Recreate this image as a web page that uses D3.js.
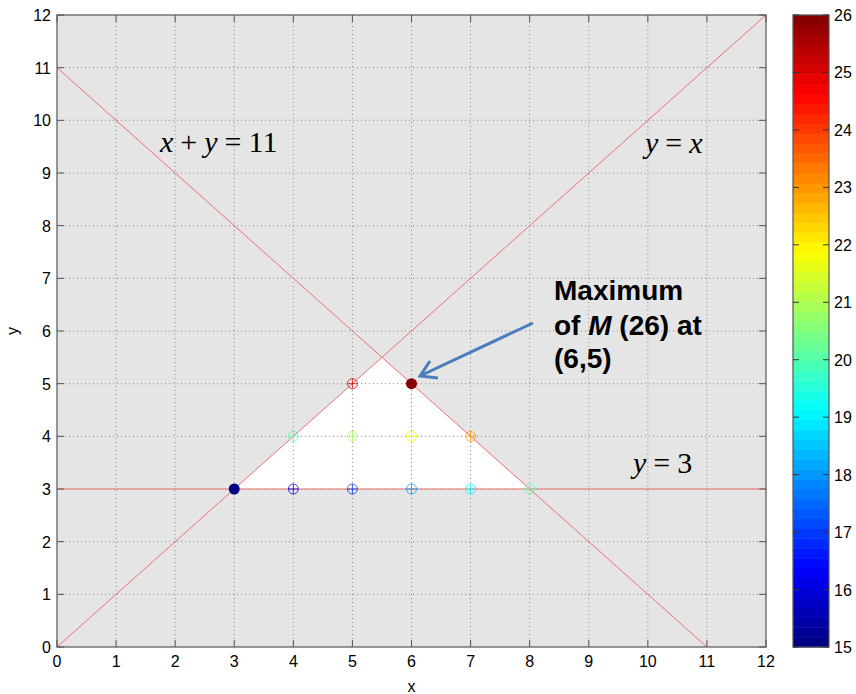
<!DOCTYPE html>
<html>
<head>
<meta charset="utf-8">
<script src="https://cdn.jsdelivr.net/npm/d3@7"></script>
<style>
body { margin: 0; background: #fff; }
svg text { font-family: Arial, "Liberation Sans", sans-serif; }
</style>
</head>
<body>
<div id="chart"></div>
<script>
const W = 856, H = 694
const M = {LEFT: 57, RIGHT: 90, TOP: 15, BOTTOM: 47}

// feasible points (x, y) and value of M at each
const ptX = [4, 5, 6, 7, 8, 4, 5, 6, 7, 5]
const ptY = [3, 3, 3, 3, 3, 4, 4, 4, 4, 5]
const ptM = [16, 17, 18, 19, 20, 20, 21, 22, 23, 25]
const minPt = {x: 3, y: 3, m: 15}
const maxPt = {x: 6, y: 5, m: 26}
const ticks = d3.range(0, 13)
const cbTicks = d3.range(15, 27)
// constraint lines as endpoints
const lines = [
  [[0, 0], [12, 12]],
  [[0, 11], [11, 0]],
  [[0, 3], [12, 3]]
]
const region = [[3, 3], [8, 3], [5.5, 5.5]]

const svg = d3.select('#chart').append('svg')
  .attr('width', W).attr('height', H)

const x = d3.scaleLinear().domain([0, 12]).range([M.LEFT, 766])
const y = d3.scaleLinear().domain([0, 12]).range([647, M.TOP])

function jet(t) {
  const c = v => Math.max(0, Math.min(1, v))
  const r = c(1.5 - Math.abs(4 * t - 3))
  const g = c(1.5 - Math.abs(4 * t - 2))
  const b = c(1.5 - Math.abs(4 * t - 1))
  return d3.rgb(r * 255, g * 255, b * 255)
}
const NC = 64
const colorOf = m => {
  let i = Math.floor((m - 15) / 11 * NC)
  i = Math.max(0, Math.min(NC - 1, i))
  return jet((i + 0.5) / NC)
}

// background
svg.append('rect')
  .attr('x', x(0)).attr('y', y(12))
  .attr('width', x(12) - x(0)).attr('height', y(0) - y(12))
  .attr('fill', '#e5e5e5')

svg.append('path')
  .attr('d', d3.line().x(d => x(d[0])).y(d => y(d[1]))(region) + 'Z')
  .attr('fill', '#fff')

// grid
const grid = svg.append('g')
grid.selectAll('.gx').data(ticks.slice(1, -1)).enter().append('line')
  .attr('x1', d => x(d)).attr('x2', d => x(d))
  .attr('y1', y(0)).attr('y2', y(12))
  .attr('stroke', '#8a8a8a').attr('stroke-width', 1)
  .attr('stroke-dasharray', '1,3')
grid.selectAll('.gy').data(ticks.slice(1, -1)).enter().append('line')
  .attr('y1', d => y(d)).attr('y2', d => y(d))
  .attr('x1', x(0)).attr('x2', x(12))
  .attr('stroke', '#8a8a8a').attr('stroke-width', 1)
  .attr('stroke-dasharray', '1,3')

// constraint lines
svg.selectAll('.cl').data(lines).enter().append('line')
  .attr('x1', d => x(d[0][0])).attr('y1', d => y(d[0][1]))
  .attr('x2', d => x(d[1][0])).attr('y2', d => y(d[1][1]))
  .attr('stroke', '#f07070').attr('stroke-width', 1)

// open markers
const pts = ptX.map((v, i) => ({x: v, y: ptY[i], m: ptM[i]}))
const mk = svg.selectAll('.pt').data(pts).enter().append('g')
  .attr('transform', d => `translate(${x(d.x)},${y(d.y)})`)
  .attr('stroke', d => colorOf(d.m)).attr('fill', 'none')
  .attr('stroke-opacity', 0.75)
mk.append('circle').attr('r', 5)
mk.append('path').attr('d', 'M-5,0H5M0,-5V5')

// filled extremes
svg.selectAll('.ext').data([minPt, maxPt]).enter().append('circle')
  .attr('cx', d => x(d.x)).attr('cy', d => y(d.y)).attr('r', 5.5)
  .attr('fill', d => colorOf(d.m))

// axes box + ticks
const axG = svg.append('g').attr('font-size', 16).attr('fill', '#000')
axG.append('rect')
  .attr('x', x(0)).attr('y', y(12))
  .attr('width', x(12) - x(0)).attr('height', y(0) - y(12))
  .attr('fill', 'none').attr('stroke', '#555').attr('stroke-width', 1.2)
const tl = 7
ticks.forEach(t => {
  axG.append('path')
    .attr('d', `M${x(t)},${y(0)}v${-tl}M${x(t)},${y(12)}v${tl}M${x(0)},${y(t)}h${tl}M${x(12)},${y(t)}h${-tl}`)
    .attr('stroke', '#555')
})
axG.selectAll('.xl').data(ticks).enter().append('text')
  .attr('x', d => x(d)).attr('y', y(0) + 20)
  .attr('text-anchor', 'middle').text(d => d)
axG.selectAll('.yl').data(ticks).enter().append('text')
  .attr('x', x(0) - 6).attr('y', d => y(d) + 6)
  .attr('text-anchor', 'end').text(d => d)
axG.append('text').attr('x', x(6)).attr('y', 692)
  .attr('text-anchor', 'middle').text('x')
axG.append('text')
  .attr('transform', `translate(18,${y(6)}) rotate(-90)`)
  .attr('text-anchor', 'middle').text('y')

// colorbar
const cb = {x0: 793, x1: 829}
const cy = d3.scaleLinear().domain([15, 26]).range([647, 15])
const cbG = svg.append('g')
cbG.selectAll('rect').data(d3.range(NC)).enter().append('rect')
  .attr('x', cb.x0).attr('width', cb.x1 - cb.x0)
  .attr('y', i => cy(15 + (i + 1) * 11 / NC))
  .attr('height', i => cy(15 + i * 11 / NC) - cy(15 + (i + 1) * 11 / NC) + 0.5)
  .attr('fill', i => jet((i + 0.5) / NC))
cbG.append('rect')
  .attr('x', cb.x0).attr('y', cy(26))
  .attr('width', cb.x1 - cb.x0).attr('height', cy(15) - cy(26))
  .attr('fill', 'none').attr('stroke', '#555').attr('stroke-width', 1.2)
cbTicks.forEach(t => {
  cbG.append('path')
    .attr('d', `M${cb.x0},${cy(t)}h6M${cb.x1},${cy(t)}h-6`)
    .attr('stroke', '#333')
})
cbG.selectAll('text').data(cbTicks).enter().append('text')
  .attr('x', cb.x1 + 5).attr('y', d => cy(d) + 6)
  .attr('font-size', 16).text(d => d)

// equation labels
const eq = svg.append('g')
  .attr('font-size', 30)
function eqText(px, py, parts) {
  const t = eq.append('text').attr('x', px).attr('y', py)
  parts.forEach((p, i) => {
    t.append('tspan').attr('font-style', p[1] ? 'italic' : 'normal')
      .attr('font-family', '"Liberation Serif", "Times New Roman", serif')
      .attr('dx', i ? 7 : 0).text(p[0])
  })
}
eqText(160, 152, [['x', 1], ['+', 0], ['y', 1], ['=', 0], ['11', 0]])
eqText(645, 153, [['y', 1], ['=', 0], ['x', 1]])
eqText(633, 473, [['y', 1], ['=', 0], ['3', 0]])

// annotation
const ann = svg.append('g').attr('font-size', 28).attr('font-weight', 'bold')
ann.append('text').attr('x', 554).attr('y', 300).text('Maximum')
const l2 = ann.append('text').attr('x', 554).attr('y', 335)
l2.append('tspan').text('of ')
l2.append('tspan').attr('font-style', 'italic').text('M')
l2.append('tspan').text(' (26) at')
ann.append('text').attr('x', 554).attr('y', 368).text('(6,5)')

svg.append('line')
  .attr('x1', 533).attr('y1', 323).attr('x2', 422).attr('y2', 375)
  .attr('stroke', '#4a7ebb').attr('stroke-width', 3)
svg.append('path')
  .attr('d', 'M430,361 L420,376 L438,378')
  .attr('fill', 'none').attr('stroke', '#4a7ebb').attr('stroke-width', 3)
</script>
</body>
</html>
